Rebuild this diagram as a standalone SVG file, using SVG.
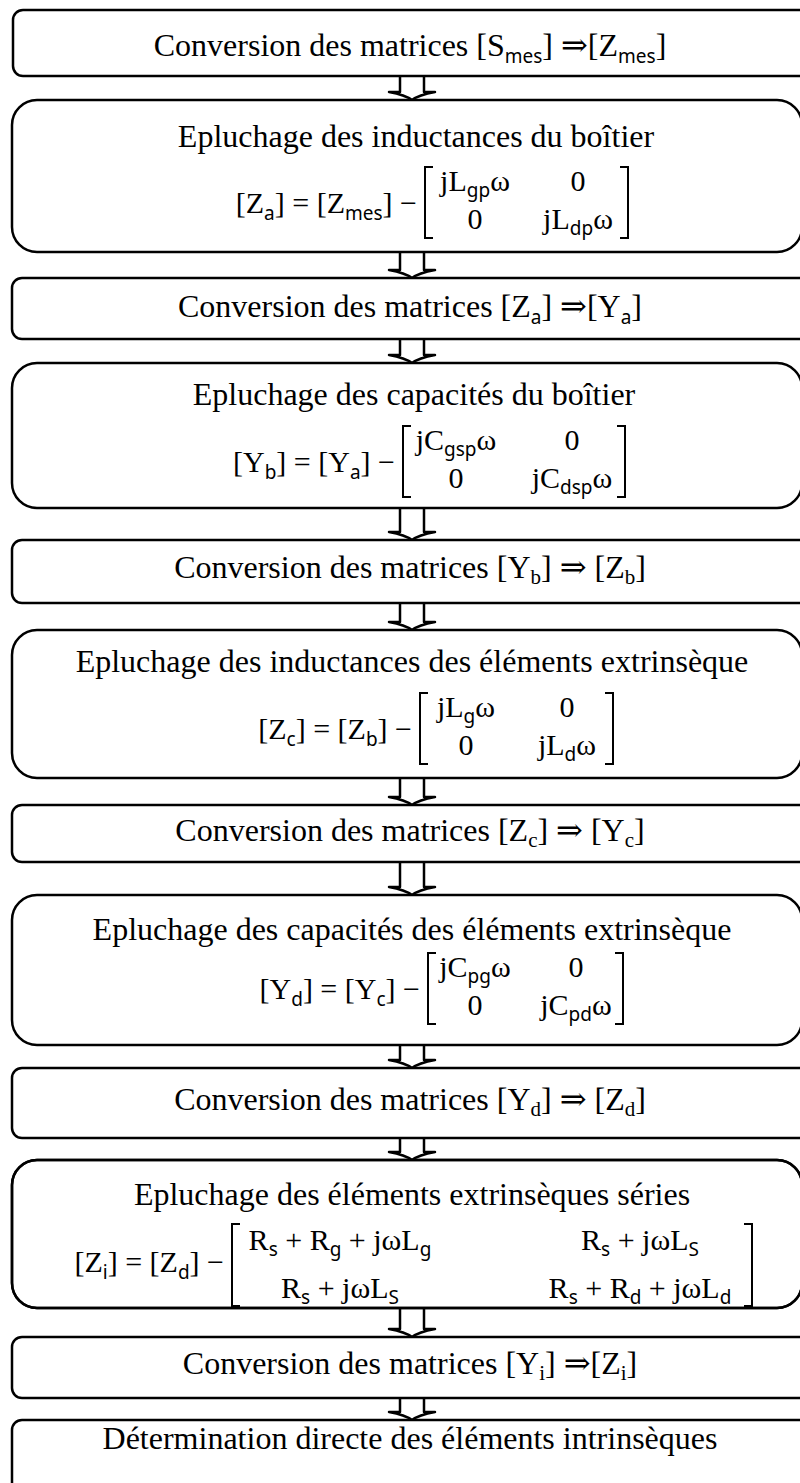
<svg xmlns="http://www.w3.org/2000/svg" width="800" height="1483" viewBox="0 0 800 1483">
<style>
.box{fill:#fff;stroke:#000;stroke-width:2.5}
.edge{fill:none;stroke:#000;stroke-width:2.5}
.t{font-family:"Liberation Serif","DejaVu Serif",serif;font-size:32px;fill:#000}
.f{font-family:"Liberation Serif","DejaVu Serif",serif;font-size:30px;fill:#000}
.c{text-anchor:middle}
.e{text-anchor:end}
.s{font-family:"Noto Sans","Liberation Sans",sans-serif;font-size:19px}
.r{font-size:21px}
.br{fill:none;stroke:#000;stroke-width:2}
.arr{fill:#fff;stroke:#000;stroke-width:2.5;stroke-linejoin:round}
</style>
<rect width="800" height="1483" fill="#fff"/>
<g id="connectors">
<path class="arr" d="M400,76 V92 H389 C400,94 408,97 412,100 C416,97 424,94 435,92 H424 V76"/>
<path class="arr" d="M400,252 V270 H389 C400,272 408,275 412,278 C416,275 424,272 435,270 H424 V252"/>
<path class="arr" d="M400,339 V355 H389 C400,357 408,360 412,363 C416,360 424,357 435,355 H424 V339"/>
<path class="arr" d="M400,508 V532 H389 C400,534 408,537 412,540 C416,537 424,534 435,532 H424 V508"/>
<path class="arr" d="M400,603 V622 H389 C400,624 408,627 412,630 C416,627 424,624 435,622 H424 V603"/>
<path class="arr" d="M400,778 V797 H389 C400,799 408,802 412,805 C416,802 424,799 435,797 H424 V778"/>
<path class="arr" d="M400,862 V887 H389 C400,889 408,892 412,895 C416,892 424,889 435,887 H424 V862"/>
<path class="arr" d="M400,1045 V1060 H389 C400,1062 408,1065 412,1068 C416,1065 424,1062 435,1060 H424 V1045"/>
<path class="arr" d="M400,1138 V1152 H389 C400,1154 408,1157 412,1160 C416,1157 424,1154 435,1152 H424 V1138"/>
<path class="arr" d="M400,1308 V1329 H389 C400,1331 408,1334 412,1337 C416,1334 424,1331 435,1329 H424 V1308"/>
<path class="arr" d="M400,1398 V1412 H389 C400,1414 408,1417 412,1420 C416,1417 424,1414 435,1412 H424 V1398"/>
</g>
<g id="n1">
<rect class="box" x="13" y="10" width="800" height="66" rx="10"/>
<text class="t c" x="410" y="56">Conversion des matrices [S<tspan class="s" dy="7">mes</tspan><tspan dy="-7">] ⇒[Z</tspan><tspan class="s" dy="7">mes</tspan><tspan dy="-7">]</tspan></text>
</g>
<g id="n2">
<rect class="box" x="12" y="100" width="790" height="152" rx="25"/>
<text class="t c" x="416" y="147">Epluchage des inductances du boîtier</text>
<text class="f e" x="417" y="213">[Z<tspan class="s" dy="7">a</tspan><tspan dy="-7">] = [Z</tspan><tspan class="s" dy="7">mes</tspan><tspan dy="-7">] −</tspan></text>
<path class="br" d="M433,167 H425 V238 H433 M620,167 H628 V238 H620"/>
<text class="f c" x="475" y="191">jL<tspan class="s" dy="6">gp</tspan><tspan dy="-6">ω</tspan></text>
<text class="f c" x="578" y="191">0</text>
<text class="f c" x="475" y="229">0</text>
<text class="f c" x="578" y="229">jL<tspan class="s" dy="6">dp</tspan><tspan dy="-6">ω</tspan></text>
</g>
<g id="n3">
<rect class="box" x="12" y="278" width="800" height="61" rx="10"/>
<text class="t c" x="410" y="317">Conversion des matrices [Z<tspan class="s" dy="7">a</tspan><tspan dy="-7">] ⇒[Y</tspan><tspan class="s" dy="7">a</tspan><tspan dy="-7">]</tspan></text>
</g>
<g id="n4">
<rect class="box" x="12" y="363" width="790" height="145" rx="25"/>
<text class="t c" x="414" y="405">Epluchage des capacités du boîtier</text>
<text class="f e" x="395" y="472">[Y<tspan class="s" dy="7">b</tspan><tspan dy="-7">] = [Y</tspan><tspan class="s" dy="7">a</tspan><tspan dy="-7">] −</tspan></text>
<path class="br" d="M411,426 H403 V497 H411 M617,426 H625 V497 H617"/>
<text class="f c" x="456" y="450">jC<tspan class="s" dy="6">gsp</tspan><tspan dy="-6">ω</tspan></text>
<text class="f c" x="572" y="450">0</text>
<text class="f c" x="456" y="488">0</text>
<text class="f c" x="572" y="488">jC<tspan class="s" dy="6">dsp</tspan><tspan dy="-6">ω</tspan></text>
</g>
<g id="n5">
<rect class="box" x="12" y="540" width="800" height="63" rx="10"/>
<text class="t c" x="410" y="578">Conversion des matrices [Y<tspan class="r" dy="6">b</tspan><tspan dy="-6">] ⇒ [Z</tspan><tspan class="r" dy="6">b</tspan><tspan dy="-6">]</tspan></text>
</g>
<g id="n6">
<rect class="box" x="12" y="630" width="790" height="148" rx="25"/>
<text class="t c" x="412" y="672">Epluchage des inductances des éléments extrinsèque</text>
<text class="f e" x="412" y="739">[Z<tspan class="s" dy="7">c</tspan><tspan dy="-7">] = [Z</tspan><tspan class="s" dy="7">b</tspan><tspan dy="-7">] −</tspan></text>
<path class="br" d="M428,693 H420 V764 H428 M605,693 H613 V764 H605"/>
<text class="f c" x="466" y="717">jL<tspan class="s" dy="6">g</tspan><tspan dy="-6">ω</tspan></text>
<text class="f c" x="567" y="717">0</text>
<text class="f c" x="466" y="755">0</text>
<text class="f c" x="567" y="755">jL<tspan class="s" dy="6">d</tspan><tspan dy="-6">ω</tspan></text>
</g>
<g id="n7">
<rect class="box" x="12" y="805" width="800" height="57" rx="10"/>
<text class="t c" x="410" y="841">Conversion des matrices [Z<tspan class="r" dy="6">c</tspan><tspan dy="-6">] ⇒ [Y</tspan><tspan class="r" dy="6">c</tspan><tspan dy="-6">]</tspan></text>
</g>
<g id="n8">
<rect class="box" x="12" y="895" width="790" height="150" rx="25"/>
<text class="t c" x="412" y="940">Epluchage des capacités des éléments extrinsèque</text>
<text class="f e" x="420" y="999">[Y<tspan class="s" dy="7">d</tspan><tspan dy="-7">] = [Y</tspan><tspan class="s" dy="7">c</tspan><tspan dy="-7">] −</tspan></text>
<path class="br" d="M436,953 H428 V1024 H436 M615,953 H623 V1024 H615"/>
<text class="f c" x="475" y="977">jC<tspan class="s" dy="6">pg</tspan><tspan dy="-6">ω</tspan></text>
<text class="f c" x="576" y="977">0</text>
<text class="f c" x="475" y="1015">0</text>
<text class="f c" x="576" y="1015">jC<tspan class="s" dy="6">pd</tspan><tspan dy="-6">ω</tspan></text>
</g>
<g id="n9">
<rect class="box" x="12" y="1068" width="800" height="70" rx="10"/>
<text class="t c" x="410" y="1110">Conversion des matrices [Y<tspan class="r" dy="6">d</tspan><tspan dy="-6">] ⇒ [Z</tspan><tspan class="r" dy="6">d</tspan><tspan dy="-6">]</tspan></text>
</g>
<g id="n10">
<rect class="box" x="12" y="1160" width="790" height="148" rx="25"/>
<text class="t c" x="412" y="1205">Epluchage des éléments extrinsèques séries</text>
<text class="f e" x="224" y="1272">[Z<tspan class="s" dy="7">i</tspan><tspan dy="-7">] = [Z</tspan><tspan class="s" dy="7">d</tspan><tspan dy="-7">] −</tspan></text>
<path class="br" d="M240,1224 H232 V1306 H240 M744,1224 H752 V1306 H744"/>
<text class="f c" x="340" y="1250">R<tspan class="s" dy="6">s</tspan><tspan dy="-6"> + R</tspan><tspan class="s" dy="6">g</tspan><tspan dy="-6"> + jωL</tspan><tspan class="s" dy="6">g</tspan></text>
<text class="f c" x="640" y="1250">R<tspan class="s" dy="6">s</tspan><tspan dy="-6"> + jωL</tspan><tspan class="s" dy="6">S</tspan></text>
<text class="f c" x="340" y="1298">R<tspan class="s" dy="6">s</tspan><tspan dy="-6"> + jωL</tspan><tspan class="s" dy="6">S</tspan></text>
<text class="f c" x="640" y="1298">R<tspan class="s" dy="6">s</tspan><tspan dy="-6"> + R</tspan><tspan class="s" dy="6">d</tspan><tspan dy="-6"> + jωL</tspan><tspan class="s" dy="6">d</tspan></text>
<rect class="edge" x="12" y="1160" width="790" height="148" rx="25"/>
</g>
<g id="n11">
<rect class="box" x="12" y="1337" width="800" height="61" rx="10"/>
<text class="t c" x="410" y="1374">Conversion des matrices [Y<tspan class="r" dy="6">i</tspan><tspan dy="-6">] ⇒[Z</tspan><tspan class="r" dy="6">i</tspan><tspan dy="-6">]</tspan></text>
</g>
<g id="n12">
<rect class="box" x="12" y="1420" width="800" height="90" rx="10"/>
<text class="t c" x="410" y="1449">Détermination directe des éléments intrinsèques</text>
</g>
</svg>
